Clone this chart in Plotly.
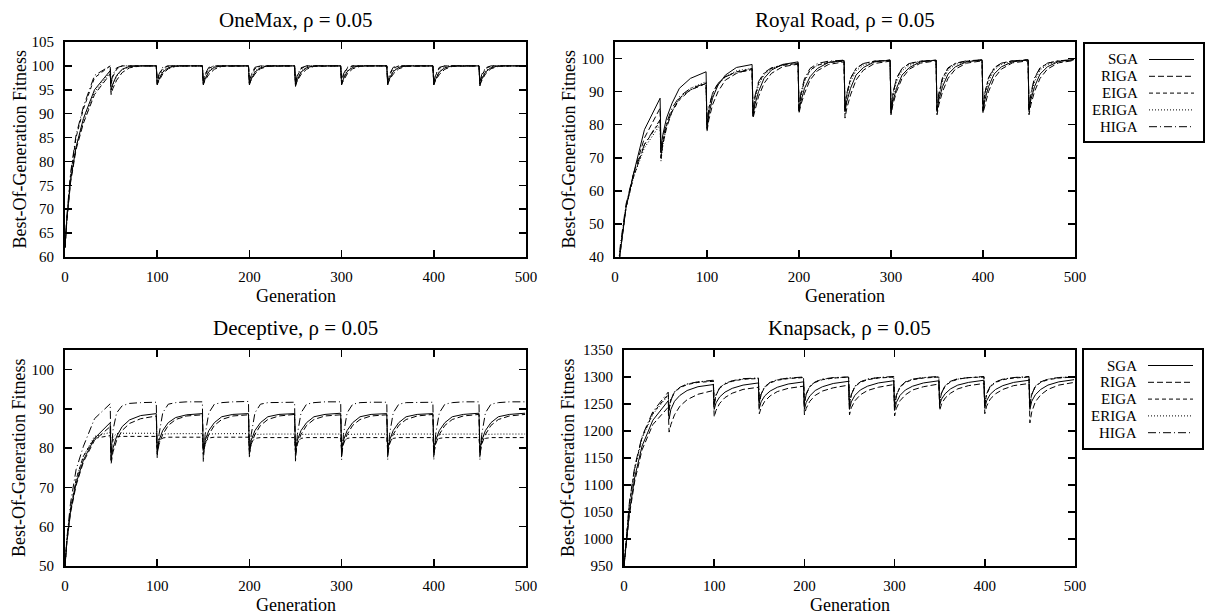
import plotly.graph_objects as go

# ---------------- data ----------------
OFFSETS = [0, 2, 6, 12, 20, 32, 49]          # sampled generations inside each 50-generation period
PERIOD = 50
N_PERIODS = 10
GENERATIONS = [PERIOD * k + o for k in range(N_PERIODS) for o in OFFSETS]

ALGORITHMS = ["SGA", "RIGA", "EIGA", "ERIGA", "HIGA"]

# OneMax
OM_SGA = [[62, 68, 76, 83, 89, 95, 99],
          [95, 96.3, 98, 99.3, 99.9, 100, 100],
          [96, 97.2, 98.7, 99.6, 100, 100, 100],
          [96, 97.3, 98.8, 99.7, 100, 100, 100],
          [96, 97.2, 98.7, 99.6, 100, 100, 100],
          [95.7, 97.1, 98.7, 99.6, 100, 100, 100],
          [96, 97.3, 98.8, 99.7, 100, 100, 100],
          [96, 97.3, 98.8, 99.7, 100, 100, 100],
          [96, 97.2, 98.7, 99.6, 100, 100, 100],
          [95.8, 97.2, 98.7, 99.6, 100, 100, 100]]
OM_RIGA = [[62, 67.5, 75.5, 82.5, 88, 94, 98.3],
           [94, 95.3, 97, 98.6, 99.6, 100, 100],
           [96.2, 97, 98.3, 99.4, 99.9, 100, 100],
           [96.2, 97, 98.2, 99.3, 99.9, 100, 100],
           [96.3, 97.1, 98.3, 99.4, 99.9, 100, 100],
           [96, 96.9, 98.2, 99.3, 99.9, 100, 100],
           [96.2, 97, 98.3, 99.4, 99.9, 100, 100],
           [96.3, 97.1, 98.3, 99.4, 99.9, 100, 100],
           [96.1, 97, 98.2, 99.3, 99.9, 100, 100],
           [96.2, 97, 98.3, 99.4, 99.9, 100, 100]]
OM_EIGA = [[62, 68, 77, 85, 91, 97.5, 100],
           [96.3, 97.8, 99.3, 100, 100, 100, 100],
           [96.5, 98, 99.5, 100, 100, 100, 100],
           [96.5, 98, 99.5, 100, 100, 100, 100],
           [96.4, 98, 99.4, 100, 100, 100, 100],
           [96.2, 97.9, 99.4, 100, 100, 100, 100],
           [96.5, 98, 99.5, 100, 100, 100, 100],
           [96.5, 98.1, 99.5, 100, 100, 100, 100],
           [96.4, 98, 99.5, 100, 100, 100, 100],
           [96.3, 97.9, 99.4, 100, 100, 100, 100]]
OM_ERIGA = [[62, 67.5, 76, 83, 88.5, 94.5, 98.7],
            [94.5, 96, 97.8, 99.2, 99.8, 100, 100],
            [96.3, 97.5, 99, 99.8, 100, 100, 100],
            [96.3, 97.5, 99, 99.8, 100, 100, 100],
            [96.2, 97.4, 98.9, 99.8, 100, 100, 100],
            [96, 97.3, 98.9, 99.8, 100, 100, 100],
            [96.3, 97.5, 99, 99.8, 100, 100, 100],
            [96.3, 97.5, 99, 99.8, 100, 100, 100],
            [96.2, 97.4, 98.9, 99.8, 100, 100, 100],
            [96.1, 97.4, 98.9, 99.8, 100, 100, 100]]
OM_HIGA = [[62, 68.5, 77.5, 85.5, 91.5, 98, 100],
           [96.5, 98.2, 99.6, 100, 100, 100, 100],
           [96.8, 98.3, 99.7, 100, 100, 100, 100],
           [96.8, 98.3, 99.7, 100, 100, 100, 100],
           [96.7, 98.2, 99.7, 100, 100, 100, 100],
           [96.5, 98.1, 99.6, 100, 100, 100, 100],
           [96.8, 98.3, 99.7, 100, 100, 100, 100],
           [96.8, 98.3, 99.7, 100, 100, 100, 100],
           [96.7, 98.2, 99.7, 100, 100, 100, 100],
           [96.6, 98.2, 99.6, 100, 100, 100, 100]]

# Royal Road
RR_SGA = [[28, 33, 42, 55, 65, 78.5, 88],
          [73, 77, 82, 86.5, 91, 94, 96],
          [78.5, 83, 88, 92, 95, 97.3, 98.2],
          [82.5, 86, 90, 94, 96.5, 98.2, 99],
          [84, 87, 91, 94.5, 97, 98.8, 99.4],
          [84, 87, 91, 95, 97.3, 99, 99.5],
          [83.5, 87, 91, 95, 97.3, 99, 99.5],
          [84, 87.5, 91.5, 95.3, 97.5, 99, 99.6],
          [84, 87.5, 91.5, 95.3, 97.5, 99, 99.6],
          [84.5, 87.5, 91.5, 95.3, 97.5, 99.1, 99.7]]
RR_RIGA = [[28, 33, 42, 55, 65, 76, 85],
           [70, 74, 79, 84, 88, 90.5, 92.5],
           [78, 81.5, 86, 90, 93.5, 95.5, 97],
           [82, 84.5, 88.5, 92.5, 95.5, 97.5, 98.3],
           [83.5, 86, 89.5, 93.5, 96.3, 98.2, 99],
           [82, 85, 89, 93.5, 96.5, 98.5, 99.2],
           [83, 86, 90, 94, 96.8, 98.6, 99.3],
           [83, 86, 90, 94, 96.8, 98.6, 99.3],
           [83.5, 86, 90, 94, 96.8, 98.7, 99.3],
           [83, 86, 90, 94, 96.8, 98.7, 99.4]]
RR_EIGA = [[28, 33, 43, 55, 64, 74, 81],
           [70, 75, 80, 84, 87.5, 90.5, 92.5],
           [80, 85, 89.5, 92.5, 94.5, 96, 96.8],
           [83, 88, 92.5, 95.5, 97, 98, 98.5],
           [84.5, 89, 93.5, 96.5, 98, 98.8, 99.2],
           [84, 89, 94, 97, 98.5, 99.2, 99.5],
           [84, 89, 94, 97, 98.5, 99.2, 99.5],
           [84, 89, 94, 97, 98.5, 99.2, 99.5],
           [84.5, 89.5, 94, 97, 98.6, 99.3, 99.6],
           [84, 89, 94, 97, 98.6, 99.3, 99.6]]
RR_ERIGA = [[28, 33, 43, 55, 64, 73, 80],
            [69, 74, 79.5, 84, 88, 91, 93],
            [79, 84, 88.5, 92, 94.5, 96.3, 97],
            [83, 87.5, 92, 95, 97, 98.2, 98.7],
            [84, 88.5, 93, 96.3, 98, 99, 99.5],
            [84, 88.5, 93, 96.3, 98, 99, 99.5],
            [83.5, 88.5, 93, 96.3, 98, 99, 99.5],
            [84, 88.5, 93, 96.5, 98.2, 99.1, 99.6],
            [84, 88.5, 93, 96.5, 98.2, 99.1, 99.6],
            [84, 88.5, 93, 96.5, 98.2, 99.1, 99.6]]
RR_HIGA = [[28, 34, 44, 56, 65, 74, 81.5],
           [71, 76, 80.5, 85, 88.5, 91, 92.5],
           [80, 85, 89.5, 92.5, 94.5, 95.8, 96.5],
           [83, 88.5, 93, 95.7, 97.2, 98, 98.5],
           [84.5, 89.5, 94, 97, 98.5, 99.2, 99.5],
           [84.5, 89.5, 94, 97, 98.5, 99.2, 99.5],
           [84, 89.5, 94, 97, 98.5, 99.2, 99.5],
           [84.5, 89.5, 94.2, 97.2, 98.6, 99.3, 99.6],
           [84.5, 89.5, 94.2, 97.2, 98.6, 99.3, 99.6],
           [84.5, 89.5, 94.2, 97.2, 98.6, 99.3, 99.7]]

# Deceptive
DC_SGA = [[50, 56, 64, 71, 77, 82.5, 86.5],
          [77, 80, 83, 85.5, 87.2, 88.3, 88.8],
          [79.5, 82, 84.5, 86.5, 87.8, 88.5, 88.8],
          [79.5, 82, 84.5, 86.5, 88, 88.6, 88.8],
          [79.5, 82, 84.5, 86.5, 88, 88.6, 88.8],
          [79.5, 82, 84.5, 86.5, 88, 88.6, 88.9],
          [79.5, 82, 84.5, 86.5, 88, 88.6, 88.8],
          [79.5, 82, 84.5, 86.5, 88, 88.6, 88.8],
          [79.5, 82, 84.5, 86.5, 88, 88.6, 88.9],
          [79.5, 82, 84.5, 86.5, 88, 88.6, 88.9]]
DC_RIGA = [[50, 56, 63.5, 70.5, 76.5, 82, 85.5],
           [76, 79, 82, 84.5, 86.3, 87.5, 88.2],
           [78.5, 81, 83.5, 85.8, 87.3, 88.2, 88.5],
           [78.5, 81, 83.5, 85.8, 87.3, 88.2, 88.5],
           [78.5, 81, 83.5, 85.8, 87.3, 88.2, 88.6],
           [78.5, 81, 83.5, 85.8, 87.3, 88.2, 88.5],
           [78.5, 81, 83.5, 85.8, 87.3, 88.2, 88.5],
           [78.5, 81, 83.5, 85.8, 87.3, 88.2, 88.6],
           [78.5, 81, 83.5, 85.8, 87.3, 88.2, 88.6],
           [78.5, 81, 83.5, 85.8, 87.3, 88.2, 88.6]]
DC_EIGA = [[50, 56.5, 64.5, 72, 78, 82.5, 83.2],
           [79, 82, 82.9, 83, 83, 83, 83],
           [79, 81.5, 82.6, 82.8, 82.8, 82.8, 82.8],
           [78.5, 81.5, 82.6, 82.8, 82.8, 82.8, 82.8],
           [79, 81.5, 82.5, 82.7, 82.7, 82.7, 82.7],
           [78.5, 81.5, 82.5, 82.7, 82.7, 82.7, 82.7],
           [79, 81.5, 82.5, 82.7, 82.7, 82.7, 82.7],
           [79, 81.5, 82.5, 82.7, 82.7, 82.7, 82.7],
           [79, 81.5, 82.5, 82.7, 82.7, 82.7, 82.7],
           [79, 81.5, 82.5, 82.7, 82.7, 82.7, 82.7]]
DC_ERIGA = [[50, 56.5, 64.5, 72, 78, 83, 84],
            [80, 82.8, 83.7, 83.8, 83.8, 83.8, 83.8],
            [80, 82.6, 83.6, 83.7, 83.7, 83.7, 83.7],
            [79.5, 82.6, 83.6, 83.7, 83.7, 83.7, 83.7],
            [80, 82.6, 83.5, 83.6, 83.6, 83.6, 83.6],
            [79.5, 82.6, 83.5, 83.6, 83.6, 83.6, 83.6],
            [80, 82.6, 83.5, 83.6, 83.6, 83.6, 83.6],
            [80, 82.6, 83.5, 83.6, 83.6, 83.6, 83.6],
            [80, 82.6, 83.5, 83.6, 83.6, 83.6, 83.6],
            [80, 82.6, 83.5, 83.6, 83.6, 83.6, 83.6]]
DC_HIGA = [[50, 57, 66, 74.5, 80.5, 87.5, 91.3],
           [78, 84.5, 89, 90.8, 91.4, 91.6, 91.7],
           [77.5, 83.5, 89, 91.2, 91.6, 91.8, 91.8],
           [76.5, 83.5, 89, 91.2, 91.6, 91.8, 91.9],
           [77.5, 83.5, 89, 91.2, 91.6, 91.7, 91.7],
           [76.5, 83.5, 89, 91.2, 91.6, 91.8, 91.8],
           [77, 83.5, 89, 91.2, 91.6, 91.7, 91.7],
           [77, 83.5, 89, 91.2, 91.6, 91.7, 91.7],
           [77, 83.5, 89, 91.2, 91.6, 91.8, 91.8],
           [77, 83.5, 89, 91.2, 91.6, 91.8, 91.8]]

# Knapsack
KS_SGA = [[950, 985, 1050, 1115, 1172, 1220, 1256],
          [1222, 1240, 1255, 1266, 1275, 1282, 1286],
          [1240, 1252, 1263, 1272, 1279, 1285, 1289],
          [1242, 1254, 1265, 1274, 1281, 1287, 1291],
          [1240, 1253, 1265, 1275, 1282, 1288, 1292],
          [1240, 1254, 1266, 1276, 1283, 1289, 1293],
          [1238, 1253, 1266, 1276, 1283, 1289, 1293],
          [1248, 1259, 1269, 1278, 1285, 1290, 1294],
          [1242, 1256, 1268, 1277, 1284, 1290, 1294],
          [1240, 1255, 1267, 1277, 1285, 1291, 1295]]
KS_RIGA = [[950, 982, 1045, 1108, 1165, 1212, 1244],
           [1198, 1212, 1230, 1246, 1258, 1268, 1275],
           [1226, 1238, 1251, 1262, 1270, 1277, 1281],
           [1232, 1243, 1255, 1265, 1273, 1279, 1283],
           [1230, 1242, 1255, 1266, 1274, 1280, 1285],
           [1230, 1243, 1256, 1267, 1275, 1281, 1286],
           [1228, 1242, 1256, 1267, 1276, 1282, 1287],
           [1238, 1250, 1261, 1270, 1278, 1284, 1288],
           [1232, 1246, 1259, 1269, 1277, 1284, 1288],
           [1215, 1235, 1254, 1267, 1277, 1285, 1290]]
KS_EIGA = [[950, 992, 1065, 1132, 1188, 1233, 1268],
           [1240, 1258, 1272, 1280, 1286, 1290, 1292],
           [1250, 1266, 1279, 1287, 1292, 1296, 1297],
           [1252, 1268, 1281, 1289, 1294, 1297, 1299],
           [1250, 1268, 1282, 1290, 1295, 1298, 1300],
           [1248, 1267, 1282, 1290, 1295, 1298, 1300],
           [1245, 1266, 1281, 1290, 1295, 1298, 1300],
           [1254, 1270, 1283, 1291, 1296, 1299, 1300],
           [1250, 1268, 1282, 1290, 1295, 1298, 1300],
           [1248, 1267, 1282, 1290, 1295, 1298, 1300]]
KS_ERIGA = [[950, 990, 1062, 1130, 1186, 1231, 1266],
            [1242, 1259, 1273, 1281, 1287, 1291, 1293],
            [1252, 1267, 1280, 1288, 1293, 1296, 1298],
            [1253, 1269, 1282, 1290, 1295, 1298, 1299],
            [1252, 1269, 1283, 1291, 1296, 1298, 1300],
            [1250, 1268, 1283, 1291, 1296, 1299, 1300],
            [1247, 1267, 1282, 1291, 1296, 1299, 1300],
            [1255, 1271, 1284, 1292, 1296, 1299, 1300],
            [1251, 1269, 1283, 1291, 1296, 1299, 1300],
            [1249, 1268, 1283, 1291, 1296, 1299, 1300]]
KS_HIGA = [[950, 994, 1068, 1135, 1190, 1236, 1272],
           [1238, 1257, 1272, 1281, 1287, 1291, 1294],
           [1249, 1266, 1280, 1288, 1293, 1297, 1298],
           [1251, 1268, 1282, 1290, 1295, 1298, 1300],
           [1249, 1268, 1283, 1291, 1296, 1299, 1300],
           [1247, 1267, 1283, 1291, 1296, 1299, 1301],
           [1244, 1266, 1282, 1291, 1296, 1299, 1301],
           [1253, 1270, 1284, 1292, 1297, 1299, 1301],
           [1249, 1268, 1283, 1291, 1296, 1299, 1301],
           [1246, 1267, 1283, 1291, 1296, 1299, 1301]]

PANELS = [
    dict(title="OneMax, ρ = 0.05", series=[OM_SGA, OM_RIGA, OM_EIGA, OM_ERIGA, OM_HIGA],
         yrange=[60, 105], ytick0=60, ydtick=5, box=(65, 526, 42, 257), legend=None),
    dict(title="Royal Road, ρ = 0.05", series=[RR_SGA, RR_RIGA, RR_EIGA, RR_ERIGA, RR_HIGA],
         yrange=[40, 105], ytick0=40, ydtick=10, box=(615, 1075, 42, 257), legend=(1084, 1204, 43, 142)),
    dict(title="Deceptive, ρ = 0.05", series=[DC_SGA, DC_RIGA, DC_EIGA, DC_ERIGA, DC_HIGA],
         yrange=[50, 105], ytick0=50, ydtick=10, box=(65, 526, 350, 566), legend=None),
    dict(title="Knapsack, ρ = 0.05", series=[KS_SGA, KS_RIGA, KS_EIGA, KS_ERIGA, KS_HIGA],
         yrange=[950, 1350], ytick0=950, ydtick=50, box=(624, 1075, 350, 566), legend=(1083, 1203, 349, 449)),
]

# ---------------- styling ----------------
W, H = 1211, 616
FONT = "Liberation Serif, Times New Roman, serif"
DASHES = ["solid", "6px,3px", "4px,3px", "1px,2px", "8px,3px,1px,3px"]


def fx(px):
    return px / W


def fy(py):
    return 1 - py / H


fig = go.Figure()
annotations = []
shapes = []
layout_axes = {}

for i, p in enumerate(PANELS):
    n = "" if i == 0 else str(i + 1)
    x0, x1, y0, y1 = p["box"]
    for name, data, dash in zip(ALGORITHMS, p["series"], DASHES):
        vals = [v for row in data for v in row]
        fig.add_trace(go.Scatter(
            x=GENERATIONS, y=vals, mode="lines", name=name, showlegend=False,
            line=dict(color="black", width=1, dash=dash),
            xaxis="x" + n, yaxis="y" + n))
    common = dict(showgrid=False, zeroline=False, showline=True, linecolor="black", linewidth=2,
                  mirror="ticks", ticks="inside", ticklen=7, tickwidth=1.5, tickcolor="black",
                  automargin=False,
                  tickfont=dict(family=FONT, size=15, color="black"))
    layout_axes["xaxis" + n] = dict(domain=[fx(x0), fx(x1)], anchor="y" + n, range=[0, 500],
                                    tick0=0, dtick=100, ticklabelstandoff=5, **common)
    layout_axes["yaxis" + n] = dict(domain=[fy(y1), fy(y0)], anchor="x" + n, range=p["yrange"],
                                    tick0=p["ytick0"], dtick=p["ydtick"], ticklabelstandoff=6, **common)
    # titles
    annotations.append(dict(text=p["title"], x=fx((x0 + x1) / 2), y=fy(y0 - 22), xref="paper", yref="paper",
                            xanchor="center", yanchor="middle", showarrow=False,
                            font=dict(family=FONT, size=21, color="black")))
    annotations.append(dict(text="Generation", x=fx((x0 + x1) / 2), y=fy(y1 + 39), xref="paper", yref="paper",
                            xanchor="center", yanchor="middle", showarrow=False,
                            font=dict(family=FONT, size=18, color="black")))
    ylab_x = 19 if x0 < 300 else 568
    annotations.append(dict(text="Best-Of-Generation Fitness", x=fx(ylab_x), y=fy((y0 + y1) / 2),
                            xref="paper", yref="paper", xanchor="center", yanchor="middle", textangle=-90,
                            showarrow=False, font=dict(family=FONT, size=18, color="black")))
    # legend box (gnuplot style: label left, line sample right)
    if p["legend"]:
        lx0, lx1, ly0, ly1 = p["legend"]
        shapes.append(dict(type="rect", xref="paper", yref="paper", x0=fx(lx0), x1=fx(lx1),
                           y0=fy(ly1), y1=fy(ly0), line=dict(color="black", width=2),
                           fillcolor="white"))
        for j, (name, dash) in enumerate(zip(ALGORITHMS, DASHES)):
            ry = ly0 + 16.5 + j * 16.8
            annotations.append(dict(text=name, x=fx(lx0 + 56), y=fy(ry), xref="paper", yref="paper",
                                    xanchor="right", yanchor="middle", showarrow=False,
                                    font=dict(family=FONT, size=15, color="black")))
            shapes.append(dict(type="line", xref="paper", yref="paper", x0=fx(lx0 + 65), x1=fx(lx0 + 110),
                               y0=fy(ry), y1=fy(ry), line=dict(color="black", width=1, dash=dash)))

fig.update_layout(width=W, height=H, margin=dict(l=0, r=0, t=0, b=0),
                  paper_bgcolor="white", plot_bgcolor="white",
                  font=dict(family=FONT, color="black"), hovermode=False,
                  annotations=annotations, shapes=shapes, **layout_axes)

fig.write_html("out.html", config={"displayModeBar": False, "staticPlot": True},
               post_script="document.body.style.margin='0';document.body.style.overflow='hidden';")
